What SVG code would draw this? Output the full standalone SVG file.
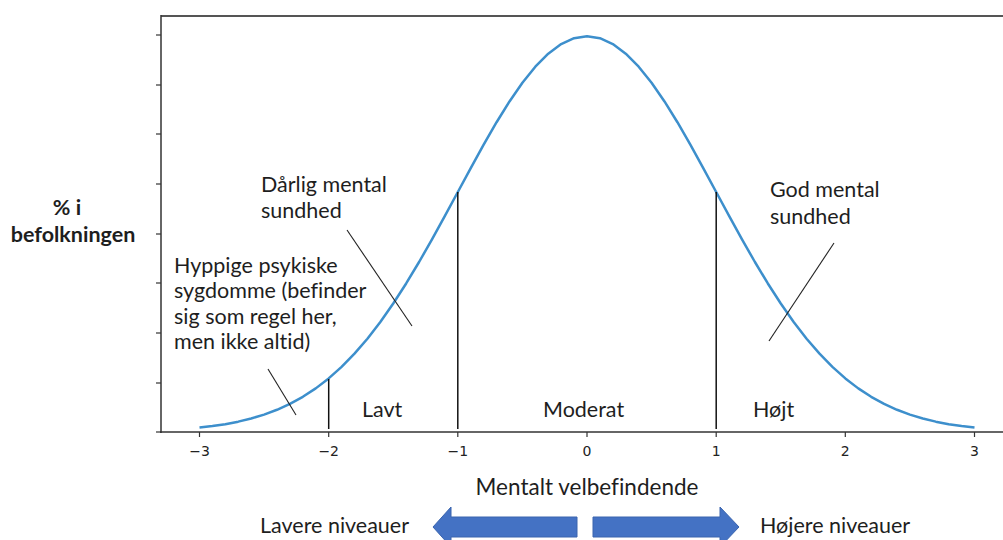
<svg xmlns="http://www.w3.org/2000/svg" width="1003" height="540" viewBox="0 0 1003 540">
<style>
.lbl{font-family:Lato,"Liberation Sans",sans-serif;font-size:21.5px;fill:#1e1e1e;font-variant-ligatures:none}
.b{font-weight:bold}
.tick{font-family:"DejaVu Sans",sans-serif;font-size:14px;fill:#222;text-anchor:middle}
.ax{stroke:#333;stroke-width:1.5;fill:none}
.tk{stroke:#333;stroke-width:1.2}
.vl{stroke:#111;stroke-width:1.5}
.dl{stroke:#222;stroke-width:1.1}
.arr{fill:#4472C4;stroke:#3a64ae;stroke-width:1}
</style>
<rect width="1003" height="540" fill="#fff"/>
<g id="axes">
<line x1="161" y1="16" x2="1003" y2="16" stroke="#555" stroke-width="2"/>
<line class="ax" x1="161" y1="15" x2="161" y2="433"/>
<line class="ax" x1="160" y1="432" x2="1003" y2="432"/>
<g class="tk">
<line x1="156" y1="35" x2="161" y2="35"/><line x1="156" y1="85" x2="161" y2="85"/>
<line x1="156" y1="134" x2="161" y2="134"/><line x1="156" y1="184" x2="161" y2="184"/>
<line x1="156" y1="234" x2="161" y2="234"/><line x1="156" y1="283" x2="161" y2="283"/>
<line x1="156" y1="333" x2="161" y2="333"/><line x1="156" y1="383" x2="161" y2="383"/>
<line x1="156" y1="432" x2="161" y2="432"/>
<line x1="199.5" y1="432" x2="199.5" y2="437"/><line x1="328.7" y1="432" x2="328.7" y2="437"/>
<line x1="457.8" y1="432" x2="457.8" y2="437"/><line x1="587" y1="432" x2="587" y2="437"/>
<line x1="716.2" y1="432" x2="716.2" y2="437"/><line x1="845.3" y1="432" x2="845.3" y2="437"/>
<line x1="974.5" y1="432" x2="974.5" y2="437"/>
</g>
<text class="tick" x="199.5" y="456">−3</text>
<text class="tick" x="328.7" y="456">−2</text>
<text class="tick" x="457.8" y="456">−1</text>
<text class="tick" x="587" y="456">0</text>
<text class="tick" x="716.2" y="456">1</text>
<text class="tick" x="845.3" y="456">2</text>
<text class="tick" x="974.5" y="456">3</text>
</g>
<g id="curve">
<polyline fill="none" stroke="#3d8fcc" stroke-width="2.5" stroke-linejoin="round" points="199.49,427.6 212.41,426.1 225.32,424.15 238.24,421.66 251.16,418.53 264.07,414.61 276.99,409.78 289.91,403.9 302.83,396.81 315.74,388.37 328.66,378.44 341.58,366.91 354.49,353.68 367.41,338.7 380.33,321.97 393.24,303.52 406.16,283.47 419.08,262 432,239.37 444.91,215.89 457.83,191.97 470.75,168.04 483.66,144.63 496.58,122.24 509.5,101.44 522.42,82.75 535.33,66.68 548.25,53.66 561.17,44.09 574.08,38.22 587,36.25 599.92,38.22 612.83,44.09 625.75,53.66 638.67,66.68 651.58,82.75 664.5,101.44 677.42,122.24 690.34,144.63 703.25,168.04 716.17,191.97 729.09,215.89 742,239.37 754.92,262 767.84,283.47 780.76,303.52 793.67,321.97 806.59,338.7 819.51,353.68 832.42,366.91 845.34,378.44 858.26,388.37 871.17,396.81 884.09,403.9 897.01,409.78 909.93,414.61 922.84,418.53 935.76,421.66 948.68,424.15 961.59,426.1 974.51,427.6"/>
</g>
<g id="connectors">
<line class="vl" x1="328.7" y1="379" x2="328.7" y2="429"/>
<line class="vl" x1="457.8" y1="192" x2="457.8" y2="429"/>
<line class="vl" x1="716.2" y1="192" x2="716.2" y2="429"/>
<line class="dl" x1="268" y1="369" x2="296" y2="415"/>
<line class="dl" x1="347" y1="230" x2="412" y2="326"/>
<line class="dl" x1="834" y1="243" x2="769" y2="341"/>
</g>
<g id="ylabel">
<text class="lbl b" x="67" y="215" text-anchor="middle">% i</text>
<text class="lbl b" x="73" y="242" text-anchor="middle">befolkningen</text>
</g>
<g id="label-poor">
<text class="lbl" x="261" y="192">Dårlig mental</text>
<text class="lbl" x="261" y="218">sundhed</text>
</g>
<g id="label-good">
<text class="lbl" x="770" y="197">God mental</text>
<text class="lbl" x="770" y="224">sundhed</text>
</g>
<g id="label-illness">
<text class="lbl" x="174" y="273">Hyppige psykiske</text>
<text class="lbl" x="174" y="298">sygdomme (befinder</text>
<text class="lbl" x="174" y="324">sig som regel her,</text>
<text class="lbl" x="174" y="349">men ikke altid)</text>
</g>
<g id="label-low"><text class="lbl" x="362" y="417">Lavt</text></g>
<g id="label-moderate"><text class="lbl" x="543" y="417">Moderat</text></g>
<g id="label-high"><text class="lbl" x="753" y="417">Højt</text></g>
<g id="xlabel"><text class="lbl" x="587" y="495" text-anchor="middle" style="font-size:22.5px">Mentalt velbefindende</text></g>
<g id="arrow-left">
<polygon class="arr" points="577,517 451,517 451,507 433,527 451,547 451,537 577,537"/>
</g>
<g id="arrow-right">
<polygon class="arr" points="593,517 720,517 720,507 739,527 720,547 720,537 593,537"/>
</g>
<g id="label-lower"><text class="lbl" x="260" y="533">Lavere niveauer</text></g>
<g id="label-higher"><text class="lbl" x="760" y="533">Højere niveauer</text></g>
</svg>
